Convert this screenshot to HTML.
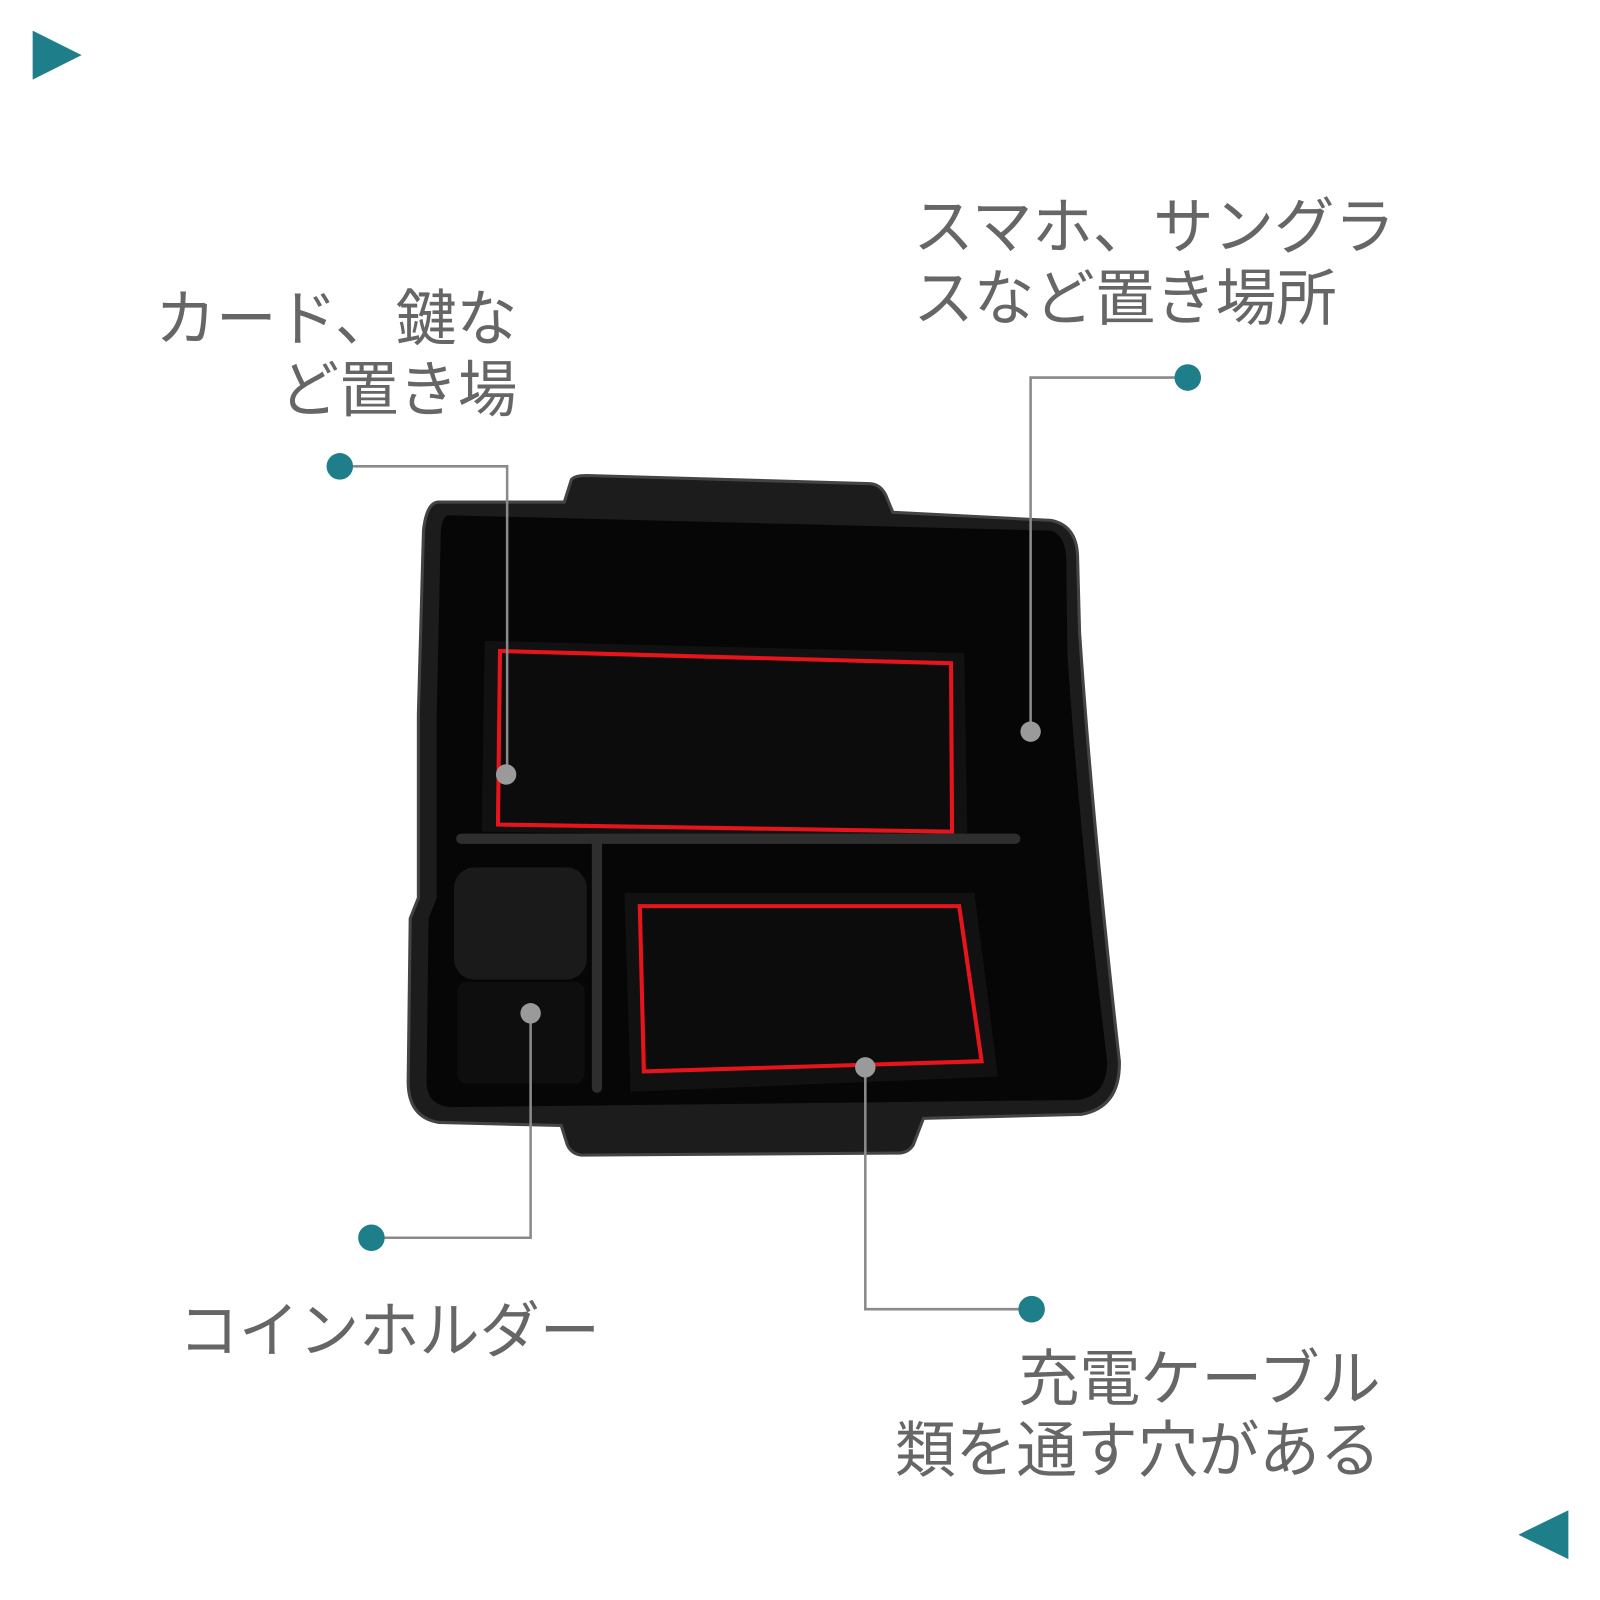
<!DOCTYPE html>
<html><head><meta charset="utf-8"><style>html,body{margin:0;padding:0;background:#fff}svg{display:block}</style></head>
<body>
<svg width="1600" height="1600" viewBox="0 0 1568 1568" xmlns="http://www.w3.org/2000/svg">
<rect width="1568" height="1568" fill="#fff"/>
<polygon points="32,30 80,54 32,78" fill="#1e7f8a"/>
<polygon points="1537,1480 1488,1504 1537,1528" fill="#1e7f8a"/>
<!-- tray -->
<path d="M430,492 L553,492 L560,470 Q563,466 575,466 L853,474 Q865,475 870,490 L875,502 L1030,510 Q1055,515 1056,545 L1058,620 Q1070,800 1097,1040 Q1098,1085 1060,1092 L905,1096 L895,1122 Q890,1130 880,1130 L570,1132 Q560,1131 556,1122 L550,1103 L430,1100 Q400,1095 400,1060 L402,900 L410,880 L410,700 L415,520 Q418,492 430,492 Z" fill="#1c1c1c" stroke="#444" stroke-width="3"/>
<path d="M440,505 L1030,520 Q1045,525 1045,550 L1046,640 Q1058,820 1085,1040 Q1085,1075 1055,1078 L440,1085 Q418,1082 418,1060 L420,900 L428,880 L428,700 L432,520 Q434,505 440,505 Z" fill="#060606"/>
<!-- mats -->
<polygon points="475,628 945,640 948,822 472,815" fill="#111"/>
<polygon points="612,875 955,875 978,1055 618,1070" fill="#111"/>
<polygon points="490,638 932,650 933,815 488,808" fill="#0c0c0c" stroke="#e8141b" stroke-width="4"/>
<polygon points="627,888 940,888 962,1040 631,1050" fill="#0c0c0c" stroke="#e8141b" stroke-width="4"/>
<!-- coin cup -->
<rect x="445" y="850" width="130" height="110" rx="20" fill="#1a1a1a"/>
<rect x="448" y="962" width="125" height="100" rx="10" fill="#0e0e0e"/>
<!-- dividers -->
<path d="M452,822 L995,822" stroke="#2e2e2e" stroke-width="10" stroke-linecap="round"/>
<path d="M585,825 L585,1066" stroke="#2e2e2e" stroke-width="10" stroke-linecap="round"/>
<!-- connectors -->
<g stroke="#8a8a8a" stroke-width="2.5" fill="none">
<polyline points="346,457 497,457 497,759"/>
<polyline points="1151,370 1010,370 1010,717"/>
<polyline points="520,993 520,1213 364,1213"/>
<polyline points="848,1046 848,1283 1011,1283"/>
</g>
<g fill="#1e7f8a">
<circle cx="333" cy="457" r="13"/><circle cx="1164" cy="370" r="13"/>
<circle cx="364" cy="1213" r="13"/><circle cx="1011" cy="1283" r="13"/>
</g>
<g fill="#9a9a9a">
<circle cx="496" cy="759" r="10"/><circle cx="1010" cy="717" r="10"/>
<circle cx="520" cy="993" r="10"/><circle cx="848" cy="1046" r="10"/>
</g>
<g font-family="'Liberation Sans','Noto Sans CJK JP',sans-serif" font-size="60" fill="#666" lengthAdjust="spacingAndGlyphs">
<text x="152" y="333" textLength="355" lengthAdjust="spacingAndGlyphs">カード、鍵な</text>
<text x="274" y="403" textLength="233" lengthAdjust="spacingAndGlyphs">ど置き場</text>
<text x="895" y="243" textLength="472" lengthAdjust="spacingAndGlyphs">スマホ、サングラ</text>
<text x="895" y="313" textLength="415" lengthAdjust="spacingAndGlyphs">スなど置き場所</text>
<text x="175" y="1325" textLength="413" lengthAdjust="spacingAndGlyphs">コインホルダー</text>
<text x="998" y="1372" textLength="355" lengthAdjust="spacingAndGlyphs">充電ケーブル</text>
<text x="877" y="1442" textLength="476" lengthAdjust="spacingAndGlyphs">類を通す穴がある</text>
</g>
</svg>
</body></html>
